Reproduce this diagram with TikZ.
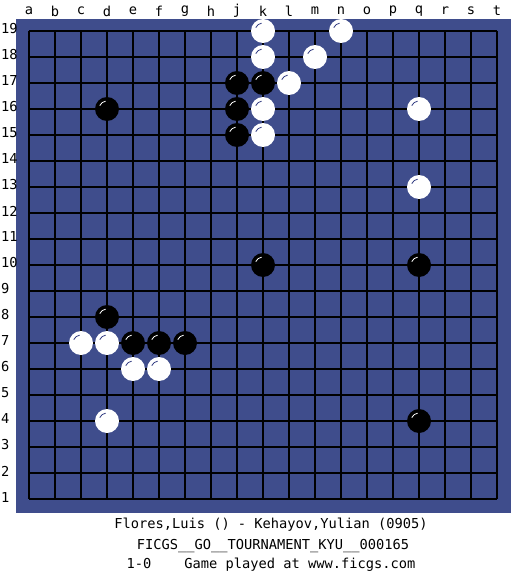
\documentclass[tikz,border=0pt]{standalone}
\usepackage{fontspec}
\setmonofont{DejaVu Sans Mono}
\usetikzlibrary{calc}
\definecolor{boardblue}{RGB}{63,77,140}
\definecolor{shineblue}{RGB}{50,60,130}
\tikzset{
    % board and grid
    board/.style={fill=boardblue, draw=none},
    gridline/.style={line width=1.6pt, black},
    % coordinate labels and caption
    coordlabel/.style={font=\ttfamily\fontsize{13.7}{16}\selectfont, inner sep=0pt},
    caption/.style={font=\ttfamily\fontsize{13.7}{16}\selectfont, inner sep=0pt},
    % stones
    stone/.style={circle, minimum size=24pt, inner sep=0pt, draw=none},
    bstone/.style={stone, fill=black},
    wstone/.style={stone, fill=white},
    bshine/.style={white, line width=0.8pt},
    wshine/.style={shineblue, line width=0.8pt},
}
\begin{document}
\begin{tikzpicture}[x=1pt,y=-1pt]
  \useasboundingbox (0,0) rectangle (525,575);
  \fill[white] (0,0) rectangle (525,575);
  \path[board] (16,19) rectangle (511,513);
  % grid
  \foreach \i in {0,...,18}{
    \draw[gridline] ({29+26*\i},31) -- ({29+26*\i},499);
    \draw[gridline] (29,{31+26*\i}) -- (497,{31+26*\i});
  }
  % column letters
  \foreach \l [count=\i from 0] in {a,b,c,d,e,f,g,h,j,k,l,m,n,o,p,q,r,s,t}
    \node[coordlabel] (col-\l) at ({29+26*\i},11) {\l};
  % row numbers
  \foreach \r in {1,...,19}
    \node[coordlabel, anchor=west] (row-\r) at (1,{29+26*(19-\r)}) {\r};
  % black stones
  \foreach \c/\r in {9/17,10/17,4/16,9/16,9/15,10/10,16/10,4/8,5/7,6/7,7/7,16/4}{
    \node[bstone] (b-\c-\r) at ({29+26*(\c-1)},{31+26*(19-\r)}) {};
    \draw[bshine] ($(b-\c-\r.center)+(-100:8)$) arc[start angle=-100, end angle=-155, radius=8];
  }
  % white stones
  \foreach \c/\r in {10/19,13/19,10/18,12/18,11/17,10/16,10/15,16/16,16/13,3/7,4/7,5/6,6/6,4/4}{
    \node[wstone] (w-\c-\r) at ({29+26*(\c-1)},{31+26*(19-\r)}) {};
    \draw[wshine] ($(w-\c-\r.center)+(-100:8)$) arc[start angle=-100, end angle=-155, radius=8];
  }
  % game info
  \node[caption] (players) at (271,525) {Flores,Luis () - Kehayov,Yulian (0905)};
  \node[caption] (event) at (273,546) {FICGS\_\_GO\_\_TOURNAMENT\_KYU\_\_000165};
  \node[caption] (result) at (271,565) {1-0~~~~Game played at www.ficgs.com};
\end{tikzpicture}
\end{document}
